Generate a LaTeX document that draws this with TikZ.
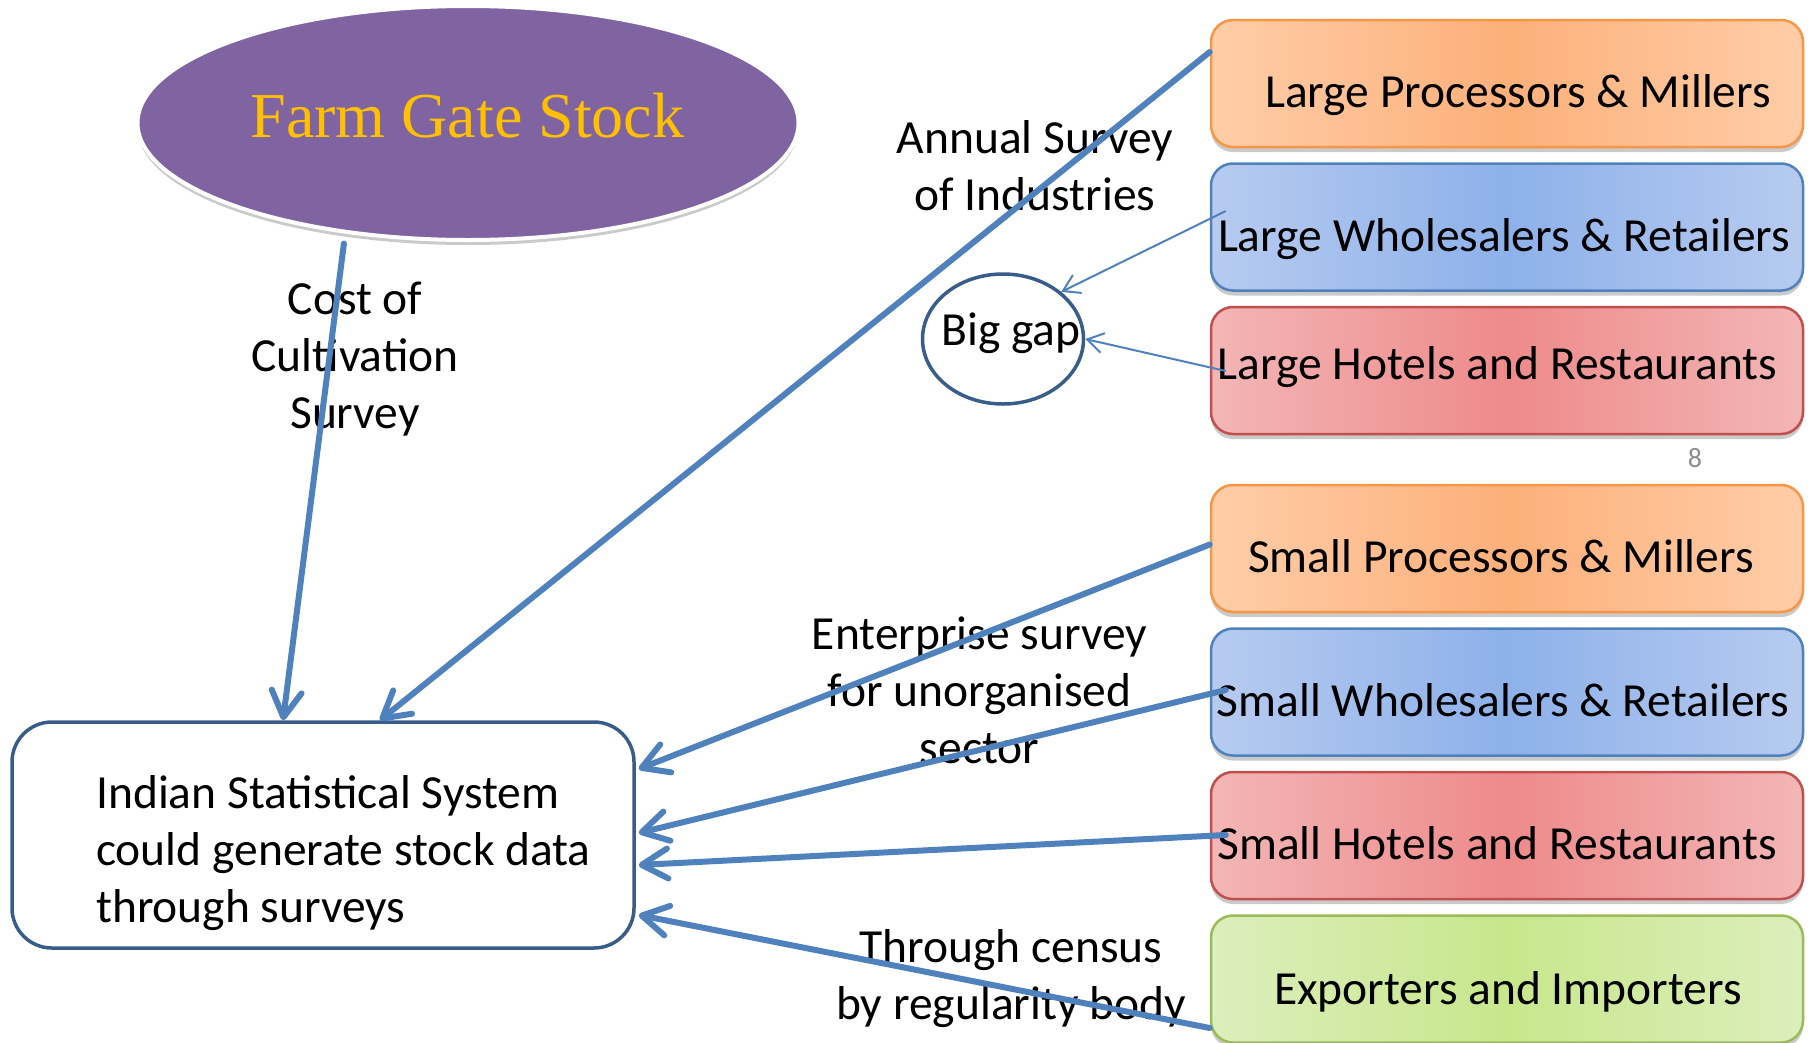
\documentclass[tikz,border=0pt]{standalone}
\usepackage{fontspec}
\setmainfont{Carlito}
\newfontfamily\farmfont{Liberation Serif}
\usetikzlibrary{arrows.meta,shapes.geometric,shadows,calc}
\definecolor{arrowblue}{HTML}{4F81BD}
\definecolor{navy}{HTML}{385D8A}
\definecolor{farm}{HTML}{8064A2}
\definecolor{gold}{HTML}{FFC000}
\definecolor{olight}{HTML}{FFCDA8}
\definecolor{odark}{HTML}{FCB07A}
\definecolor{oborder}{HTML}{F79646}
\definecolor{blight}{HTML}{B7CBF0}
\definecolor{bdark}{HTML}{8DB1EA}
\definecolor{bborder}{HTML}{4F81BD}
\definecolor{rlight}{HTML}{F3B6B6}
\definecolor{rdark}{HTML}{EE8A8A}
\definecolor{rborder}{HTML}{C0504D}
\definecolor{glight}{HTML}{DCEEBC}
\definecolor{gdark}{HTML}{C7E78C}
\definecolor{gborder}{HTML}{9BBB59}
\definecolor{pagegray}{HTML}{8C8C8C}
\tikzset{
  txt/.style={font=\fontsize{47.5}{57}\selectfont, inner sep=0pt},
  card/.style={rounded corners=22pt, minimum width=592pt, minimum height=127pt,
    line width=2.5pt, inner sep=0pt,
    drop shadow={shadow xshift=0pt, shadow yshift=-5pt, opacity=0.35, fill=black!60}},
  orangecard/.style={card, draw=oborder, left color=olight, right color=olight, middle color=odark},
  bluecard/.style={card, draw=bborder, left color=blight, right color=blight, middle color=bdark},
  redcard/.style={card, draw=rborder, left color=rlight, right color=rlight, middle color=rdark},
  greencard/.style={card, draw=gborder, left color=glight, right color=glight, middle color=gdark},
  bigarrow/.style={draw=arrowblue, line width=6pt, line cap=round,
    -{Straight Barb[length=26pt,width=30pt,line cap=round,line join=round]}},
  thinarrow/.style={draw=arrowblue, line width=2pt,
    -{Straight Barb[length=16pt,width=20pt]}},
}
\begin{document}
\begin{tikzpicture}[x=1pt,y=-1pt]
\useasboundingbox (0,0) rectangle (1812,1042);
\clip (0,0) rectangle (1812,1042);

% Farm gate ellipse
\node[ellipse, minimum width=661pt, minimum height=234pt, inner sep=0pt,
  fill=farm, draw=white, line width=4pt,
  drop shadow={shadow xshift=0pt, shadow yshift=-5pt, opacity=0.35, fill=black!60}] (fgs) at (468,123) {};
\node[anchor=base, inner sep=0pt, text=gold, font=\farmfont\fontsize{64}{70}\selectfont] (fgstext) at (467.5,137) {Farm Gate Stock};

% ISS box
\node[rectangle, rounded corners=40pt, minimum width=622pt, minimum height=226pt,
  draw=navy, line width=3.5pt, fill=white] (iss) at (323,835) {};
\node[txt, anchor=base west, align=left] (isstext) at (96,922)
  {Indian Statistical System\\could generate stock data\\through surveys};

% Big gap
\node[ellipse, minimum width=161pt, minimum height=130pt, inner sep=0pt,
  draw=navy, line width=3.5pt] (gap) at (1003,339) {};
\node[txt, anchor=base] (gaptext) at (1011,345) {Big gap};

% Right boxes
\node[orangecard] (b1) at (1507,83.5) {};
\node[bluecard]   (b2) at (1507,227) {};
\node[redcard]    (b3) at (1507,370.5) {};
\node[orangecard] (b4) at (1507,548.5) {};
\node[bluecard]   (b5) at (1507,692) {};
\node[redcard]    (b6) at (1507,835.5) {};
\node[greencard]  (b7) at (1507,979) {};

\node[txt, anchor=base] (t1) at (1518,107.5) {Large Processors \& Millers};
\node[txt, anchor=base] (t2) at (1504,251) {Large Wholesalers \& Retailers};
\node[txt, anchor=base] (t3) at (1497.5,379.5) {Large Hotels and Restaurants};
\node[txt, anchor=base] (t4) at (1501,572.5) {Small Processors \& Millers};
\node[txt, anchor=base] (t5) at (1503,716) {Small Wholesalers \& Retailers};
\node[txt, anchor=base] (t6) at (1497,859.5) {Small Hotels and Restaurants};
\node[txt, anchor=base] (t7) at (1508,1004) {Exporters and Importers};

\node[inner sep=0pt, text=pagegray, font=\fontsize{28}{30}\selectfont] (pg) at (1695,458) {8};

% Labels (anchor base = baseline of last line)
\node[txt, anchor=base, align=center] (asi) at (1035,210) {Annual Survey\\of Industries};
\node[txt, anchor=base, align=center] (cocs) at (355,428) {Cost of\\Cultivation\\Survey};
\node[txt, anchor=base, align=center] (esu) at (979.5,763) {Enterprise survey\\for unorganised\\sector};
\node[txt, anchor=base, align=center] (cen) at (1011,1019) {Through census\\by regularity body};

% Connectors
\draw[bigarrow, shorten <=10pt] (fgs.-138) -- ($(iss.north)+(-40,0)$);
\draw[bigarrow] ($(b1.west)+(0,-31.5)$) -- ($(iss.north)+(57,0)$);
\draw[bigarrow] ($(b4.west)+(0,-4)$) -- ($(iss.east)+(3,-66)$);
\draw[bigarrow] ($(b5.west)+(16,-2)$) -- ($(iss.east)+(3,-2)$);
\draw[bigarrow] ($(b6.west)+(16,-0.5)$) -- ($(iss.east)+(3,30)$);
\draw[bigarrow] ($(b7.west)+(0,49)$) -- ($(iss.east)+(3,80)$);
\draw[thinarrow] ($(b2.west)+(16,-16)$) -- (gap.39);
\draw[thinarrow] ($(b3.west)+(16,0.5)$) -- (gap.east);
\end{tikzpicture}
\end{document}
